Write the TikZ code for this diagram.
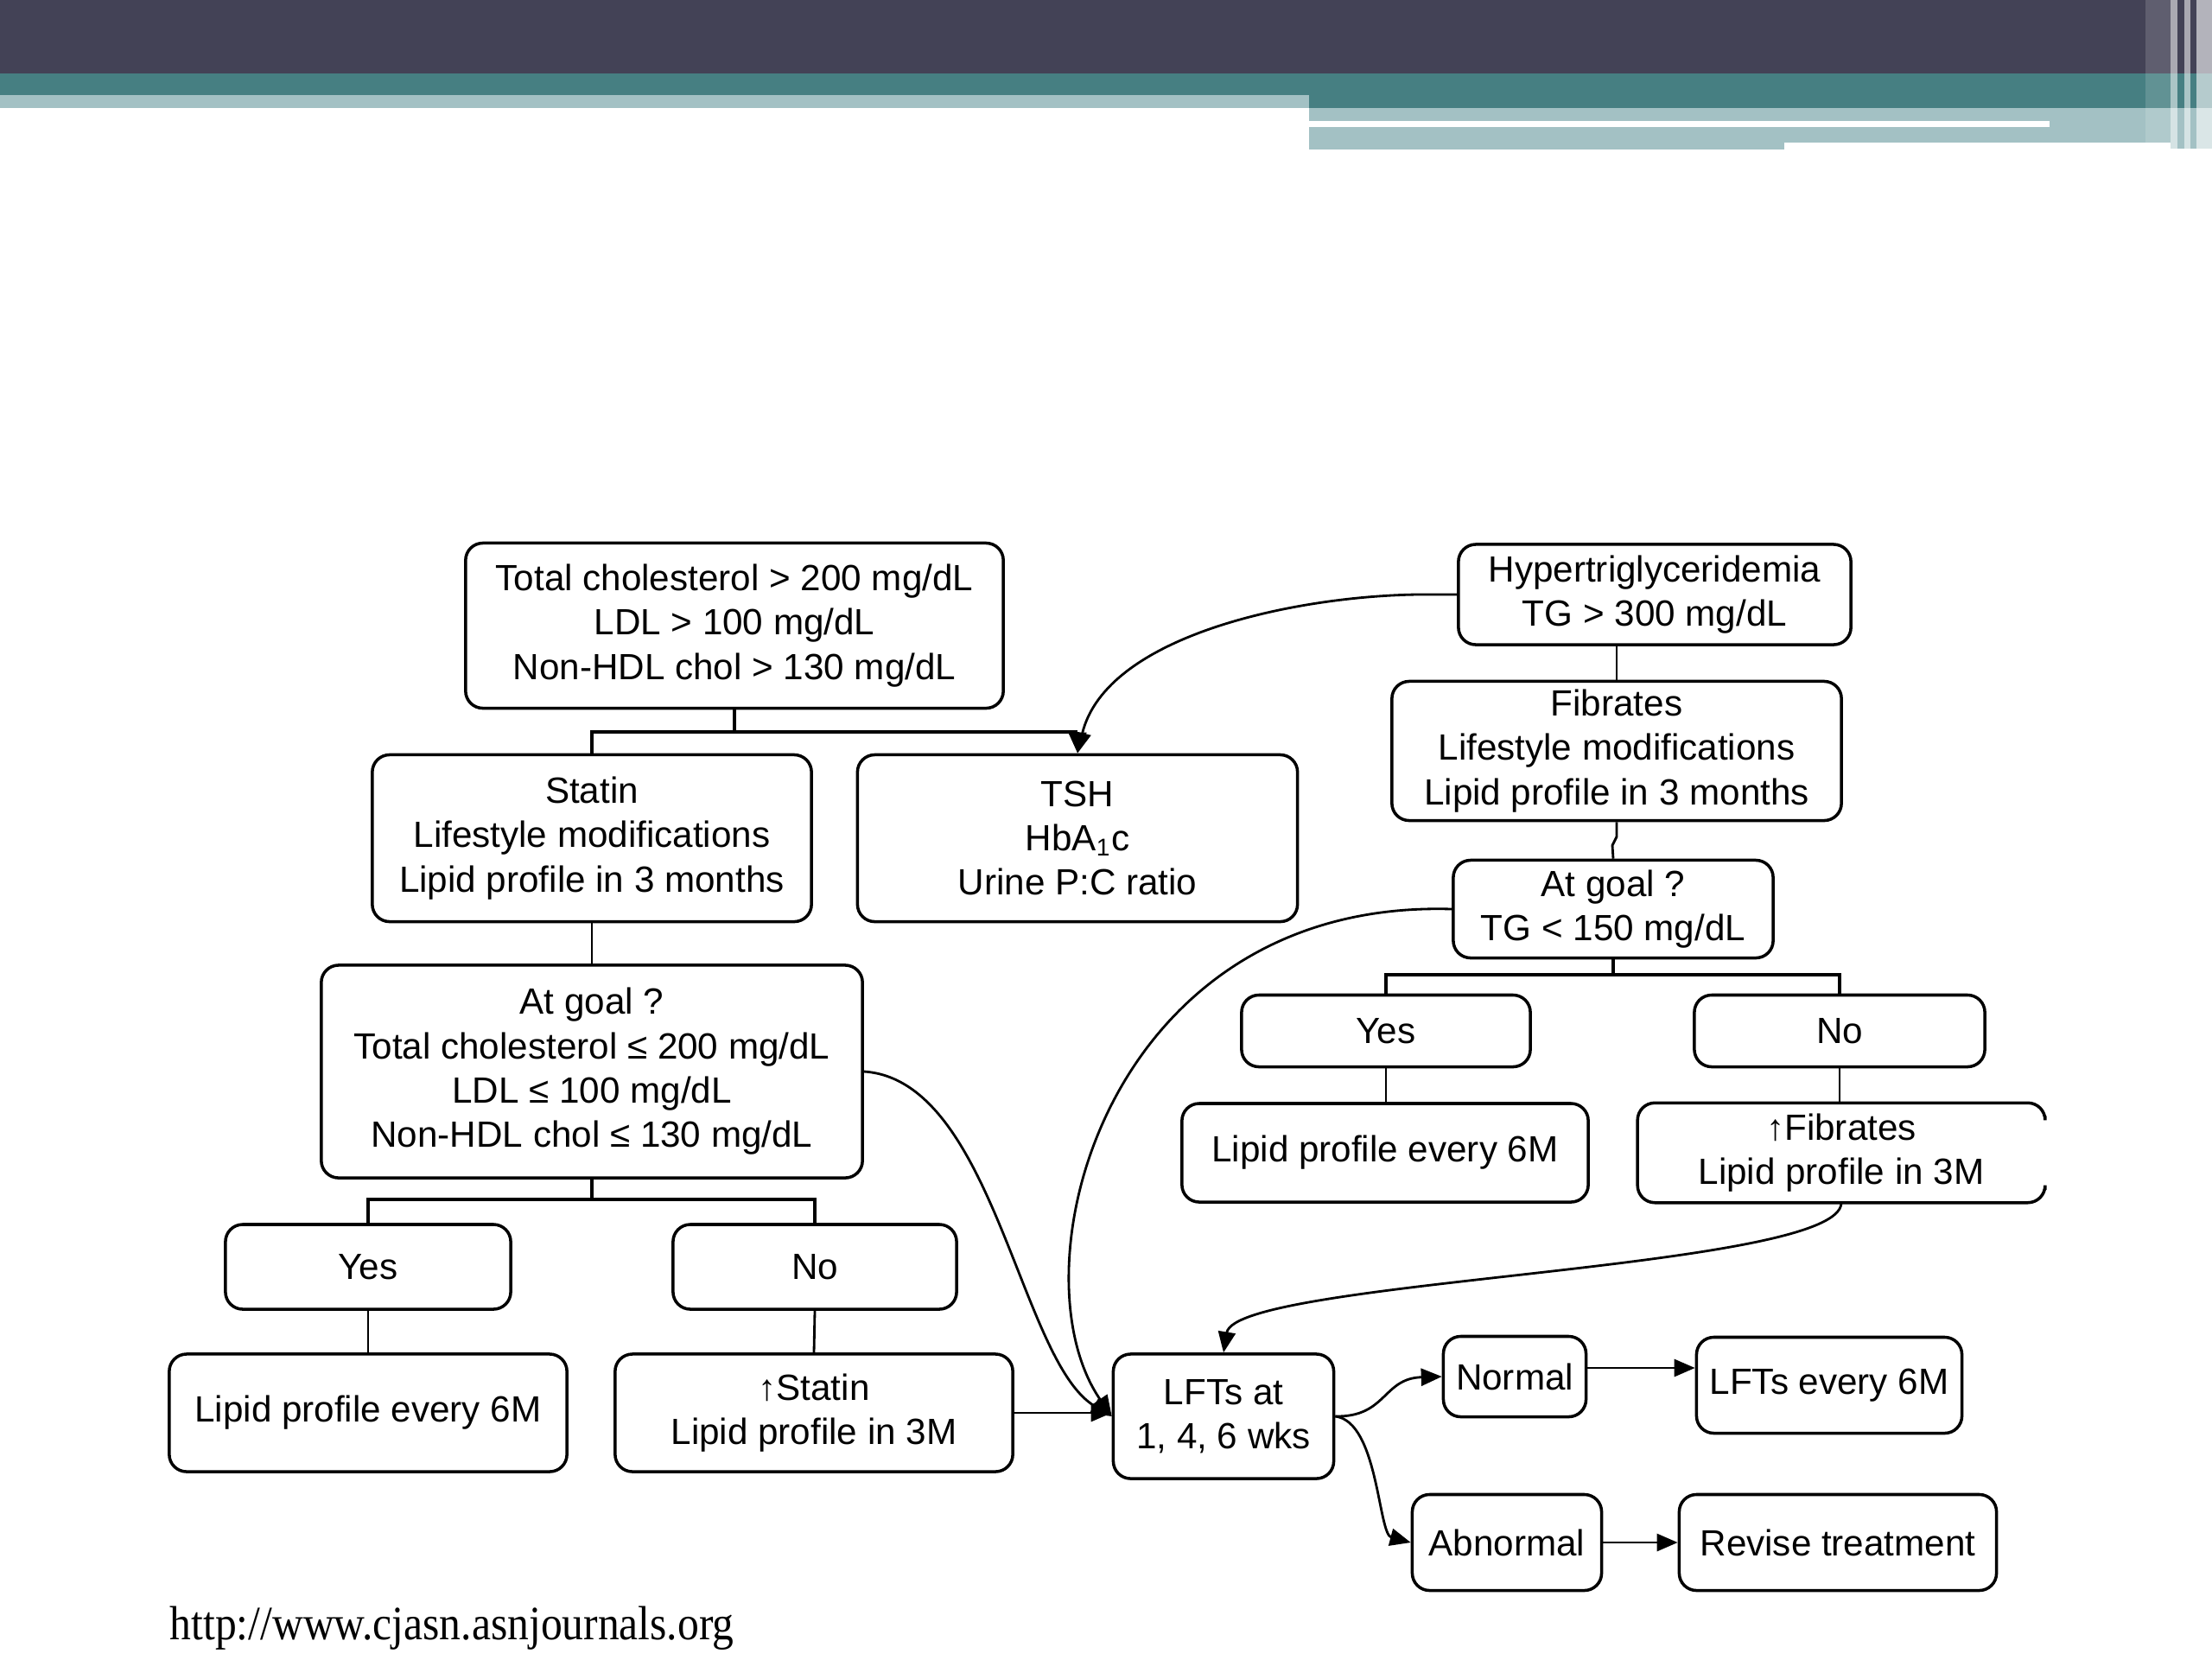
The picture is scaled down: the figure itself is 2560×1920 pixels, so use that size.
\documentclass[tikz,border=0pt]{standalone}
\usepackage{fontspec}
\setmainfont{Liberation Sans}
\newfontfamily\urlfont{Liberation Serif}
\usetikzlibrary{arrows.meta}
\definecolor{bandDark}{HTML}{434256}
\definecolor{bandTeal}{HTML}{467F82}
\definecolor{bandLight}{HTML}{A3C1C4}
\tikzset{
  box/.style={draw=black, line width=1pt, rounded corners=0.2cm, align=center, inner sep=0pt,
    font=\fontsize{12}{14.6}\selectfont},
  openbox/.style={draw=none, align=center, inner sep=0pt, font=\fontsize{12}{14.6}\selectfont},
  conn/.style={draw=black, line width=0.8pt},
  bar/.style={draw=black, line width=1.3pt},
  tip/.style={-{Triangle[length=0.24cm,width=0.2cm]}}
}
\begin{document}
\begin{tikzpicture}[x=0.01cm,y=-0.01cm]
\useasboundingbox (0,0) rectangle (2560,1920);
\fill[white] (0,0) rectangle (2560,1920);
% ---- banner ----
\fill[bandDark] (0,0) rectangle (2560,85);
\fill[bandTeal] (0,85) rectangle (2560,110);
\fill[bandTeal] (1515,110) rectangle (2560,125);
\fill[bandLight] (0,110) rectangle (1515,125);
\fill[bandLight] (1515,125) rectangle (2512,165);
\fill[bandLight] (1515,165) rectangle (2065,173);
\fill[bandLight] (2512,125) rectangle (2560,172);
\fill[white] (1515,140) rectangle (2372,147);
\fill[white,opacity=.15] (2483,0) rectangle (2512,165);
\fill[white,opacity=.55] (2512,0) rectangle (2520,172);
\fill[white,opacity=.55] (2528,0) rectangle (2535,172);
\fill[white,opacity=.6] (2542,0) rectangle (2560,172);
% ---- nodes ----
\node[box, minimum width=6.22cm, minimum height=1.91cm] (A) at (850,724)
  {Total cholesterol > 200 mg/dL\\LDL > 100 mg/dL\\Non-HDL chol > 130 mg/dL};
\node[box, minimum width=4.54cm, minimum height=1.16cm] (TG) at (1915,688)
  {Hypertriglyceridemia\\TG > 300 mg/dL};
\node[box, minimum width=5.08cm, minimum height=1.93cm] (Statin) at (685,970)
  {Statin\\Lifestyle modifications\\Lipid profile in 3 months};
\node[box, minimum width=5.09cm, minimum height=1.93cm] (TSH) at (1247,970)
  {TSH\\HbA\textsubscript{1}c\\Urine P:C ratio};
\node[box, minimum width=5.20cm, minimum height=1.61cm] (Fib) at (1871,869)
  {Fibrates\\Lifestyle modifications\\Lipid profile in 3 months};
\node[box, minimum width=3.70cm, minimum height=1.13cm] (GoalTG) at (1867,1052)
  {At goal ?\\TG < 150 mg/dL};
\node[box, minimum width=6.26cm, minimum height=2.46cm] (GoalL) at (685,1240)
  {At goal ?\\Total cholesterol ≤ 200 mg/dL\\LDL ≤ 100 mg/dL\\Non-HDL chol ≤ 130 mg/dL};
\node[box, minimum width=3.34cm, minimum height=0.83cm] (YesR) at (1604,1193) {Yes};
\node[box, minimum width=3.36cm, minimum height=0.83cm] (NoR) at (2129,1193) {No};
\node[box, minimum width=4.70cm, minimum height=1.14cm] (LsixR) at (1603,1334) {Lipid profile every 6M};
\node[openbox, minimum width=4.70cm, minimum height=1.14cm] (Fthree) at (2131,1334)
  {↑Fibrates\\Lipid profile in 3M};
\draw[line width=1pt, rounded corners=0.2cm] ([yshift=-0.15cm]Fthree.north east) -- (Fthree.north east)
  -- (Fthree.north west) -- (Fthree.south west) -- (Fthree.south east) -- ([yshift=0.15cm]Fthree.south east);
\node[box, minimum width=3.30cm, minimum height=0.98cm] (YesL) at (426,1466) {Yes};
\node[box, minimum width=3.28cm, minimum height=0.98cm] (NoL) at (943,1466) {No};
\node[box, minimum width=4.60cm, minimum height=1.36cm] (LsixL) at (426,1635) {Lipid profile every 6M};
\node[box, minimum width=4.60cm, minimum height=1.36cm] (Sthree) at (942,1635)
  {↑Statin\\Lipid profile in 3M};
\node[box, minimum width=2.55cm, minimum height=1.44cm] (LFT) at (1416,1639)
  {LFTs at\\1, 4, 6 wks};
\node[box, minimum width=1.65cm, minimum height=0.93cm] (Norm) at (1753,1593) {Normal};
\node[box, minimum width=3.07cm, minimum height=1.11cm] (LFTsix) at (2117,1603) {LFTs every 6M};
\node[box, minimum width=2.19cm, minimum height=1.11cm] (Abn) at (1744,1785) {Abnormal};
\node[box, minimum width=3.67cm, minimum height=1.11cm] (Rev) at (2127,1785) {Revise treatment};
\node[anchor=base west, inner sep=0pt, font=\urlfont\fontsize{14.1}{16}\selectfont] (url) at (196,1897)
  {\scalebox{1}[1.12]{http://www.cjasn.asnjournals.org}};
% ---- connectors ----
\draw[bar] (A.south) -- (A.south |- 0,847);
\draw[bar] (Statin.north) |- (TSH.north |- 0,847);
\draw[bar, tip] (TSH.north |- 0,847) -- (TSH.north);
\draw[conn, tip] (TG.west) -- ++(-46,0) .. controls (1500,690) and (1280,735) .. (TSH.north);
\draw[conn] (Fib.north) -- (Fib.north |- TG.south);
\draw[conn] (Fib.south) -- ++(0,17) -- ++(-5,10) -- (GoalTG.north);
\draw[bar] (GoalTG.south) -- (GoalTG.south |- 0,1128);
\draw[bar] (YesR.north) |- (NoR.north |- 0,1128) -- (NoR.north);
\draw[conn] (YesR.south) -- (LsixR.north -| YesR.south);
\draw[conn] (NoR.south) -- (Fthree.north -| NoR.south);
\draw[conn] (Statin.south) -- (GoalL.north);
\draw[bar] (GoalL.south) -- (GoalL.south |- 0,1388);
\draw[bar] (YesL.north) |- (NoL.north |- 0,1388) -- (NoL.north);
\draw[conn] (YesL.south) -- (LsixL.north);
\draw[conn] (NoL.south) -- (Sthree.north);
\draw[conn, tip] (Sthree.east) -- (Sthree.east -| LFT.west);
\draw[conn, tip] (GoalL.east) .. controls (1150,1250) and (1180,1575) .. (LFT.west);
\draw[conn, tip] (GoalTG.west) .. controls (1280,1040) and (1170,1470) .. (LFT.west);
\draw[conn, tip] (Fthree.south) .. controls (2131,1470) and (1430,1480) .. (LFT.north);
\draw[conn, tip] (LFT.east) .. controls (1605,1640) and (1600,1595) .. (Norm.west);
\draw[conn, tip] (LFT.east) .. controls (1595,1645) and (1595,1775) .. (Abn.west);
\draw[conn, tip] (Norm.east |- 0,1583) -- (LFTsix.west |- 0,1583);
\draw[conn, tip] (Abn.east) -- (Rev.west);
\end{tikzpicture}
\end{document}
